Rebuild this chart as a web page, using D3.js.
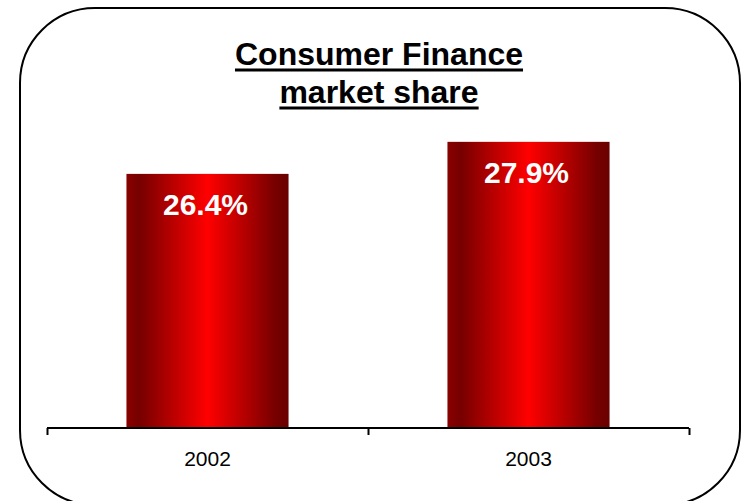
<!DOCTYPE html>
<html>
<head>
<meta charset="utf-8">
<script src="https://cdn.jsdelivr.net/npm/d3@7"></script>
<style>
  html, body { margin: 0; padding: 0; background: #fff; }
  svg { display: block; }
  text { font-family: Arial, "Liberation Sans", Helvetica, sans-serif; }
</style>
</head>
<body>
<svg id="chart" width="744" height="501"></svg>
<script>
// Market share by year
const years = ["2002", "2003"];
const shares = [26.4, 27.9];
const titleLines = ["Consumer Finance", "market share"];

const W = 744, H = 501;
const svg = d3.select("#chart");

// Rounded frame
svg.append("rect")
  .attr("x", 20).attr("y", 8)
  .attr("width", 720).attr("height", 497)
  .attr("rx", 75).attr("ry", 75)
  .attr("fill", "#fff")
  .attr("stroke", "#000")
  .attr("stroke-width", 2);

// Bar gradient: dark edges, bright centre
const defs = svg.append("defs");
const grad = defs.append("linearGradient")
  .attr("id", "barGrad")
  .attr("x1", "0%").attr("x2", "100%")
  .attr("y1", "0%").attr("y2", "0%");
[[0, "#8a0000"], [0.08, "#760000"], [0.5, "#ff0000"], [0.92, "#760000"], [1, "#6a0000"]]
  .forEach(([o, c]) => grad.append("stop").attr("offset", o).attr("stop-color", c));

const axisY = 428;
const x = d3.scaleBand().domain(years).range([47, 689]).paddingInner(0.495).paddingOuter(0.2475);
const y = d3.scaleLinear().domain([14.5, 30]).range([axisY, 97]);

// Bars
svg.append("g").selectAll("rect")
  .data(years)
  .join("rect")
  .attr("x", d => x(d))
  .attr("y", (d, i) => y(shares[i]))
  .attr("width", x.bandwidth())
  .attr("height", (d, i) => axisY - y(shares[i]))
  .attr("fill", "url(#barGrad)");

// Value labels inside bars
svg.append("g").selectAll("text")
  .data(years)
  .join("text")
  .attr("x", d => x(d) + x.bandwidth() / 2 - 2)
  .attr("y", (d, i) => y(shares[i]) + 41)
  .attr("text-anchor", "middle")
  .attr("fill", "#fff")
  .attr("font-weight", "bold")
  .attr("font-size", 30)
  .text((d, i) => shares[i].toFixed(1) + "%");

// Category axis with ticks between categories
const edge = d3.scaleLinear().domain([0, years.length]).range([47, 689]);
const axisG = svg.append("g").attr("transform", `translate(0,${axisY})`);
axisG.call(d3.axisBottom(edge).tickValues(d3.range(years.length + 1)).tickSize(7).tickFormat(""));
axisG.select(".domain").attr("stroke", "#000").attr("stroke-width", 2).attr("d", "M47,0H689");
axisG.selectAll(".tick line").attr("stroke", "#000").attr("stroke-width", 2);

svg.append("g").selectAll("text")
  .data(years)
  .join("text")
  .attr("x", d => x(d) + x.bandwidth() / 2)
  .attr("y", 466)
  .attr("text-anchor", "middle")
  .attr("fill", "#000")
  .attr("font-size", 21)
  .text(d => d);

// Underlined title
const titleY = [65, 103];
titleLines.forEach((t, i) => {
  const tx = svg.append("text")
    .attr("x", 379).attr("y", titleY[i])
    .attr("text-anchor", "middle")
    .attr("font-weight", "bold")
    .attr("font-size", 32)
    .attr("fill", "#000")
    .text(t);
  const w = tx.node().getComputedTextLength();
  svg.append("line")
    .attr("x1", 379 - w / 2).attr("x2", 379 + w / 2)
    .attr("y1", titleY[i] + 5).attr("y2", titleY[i] + 5)
    .attr("stroke", "#000").attr("stroke-width", 3);
});
</script>
</body>
</html>
